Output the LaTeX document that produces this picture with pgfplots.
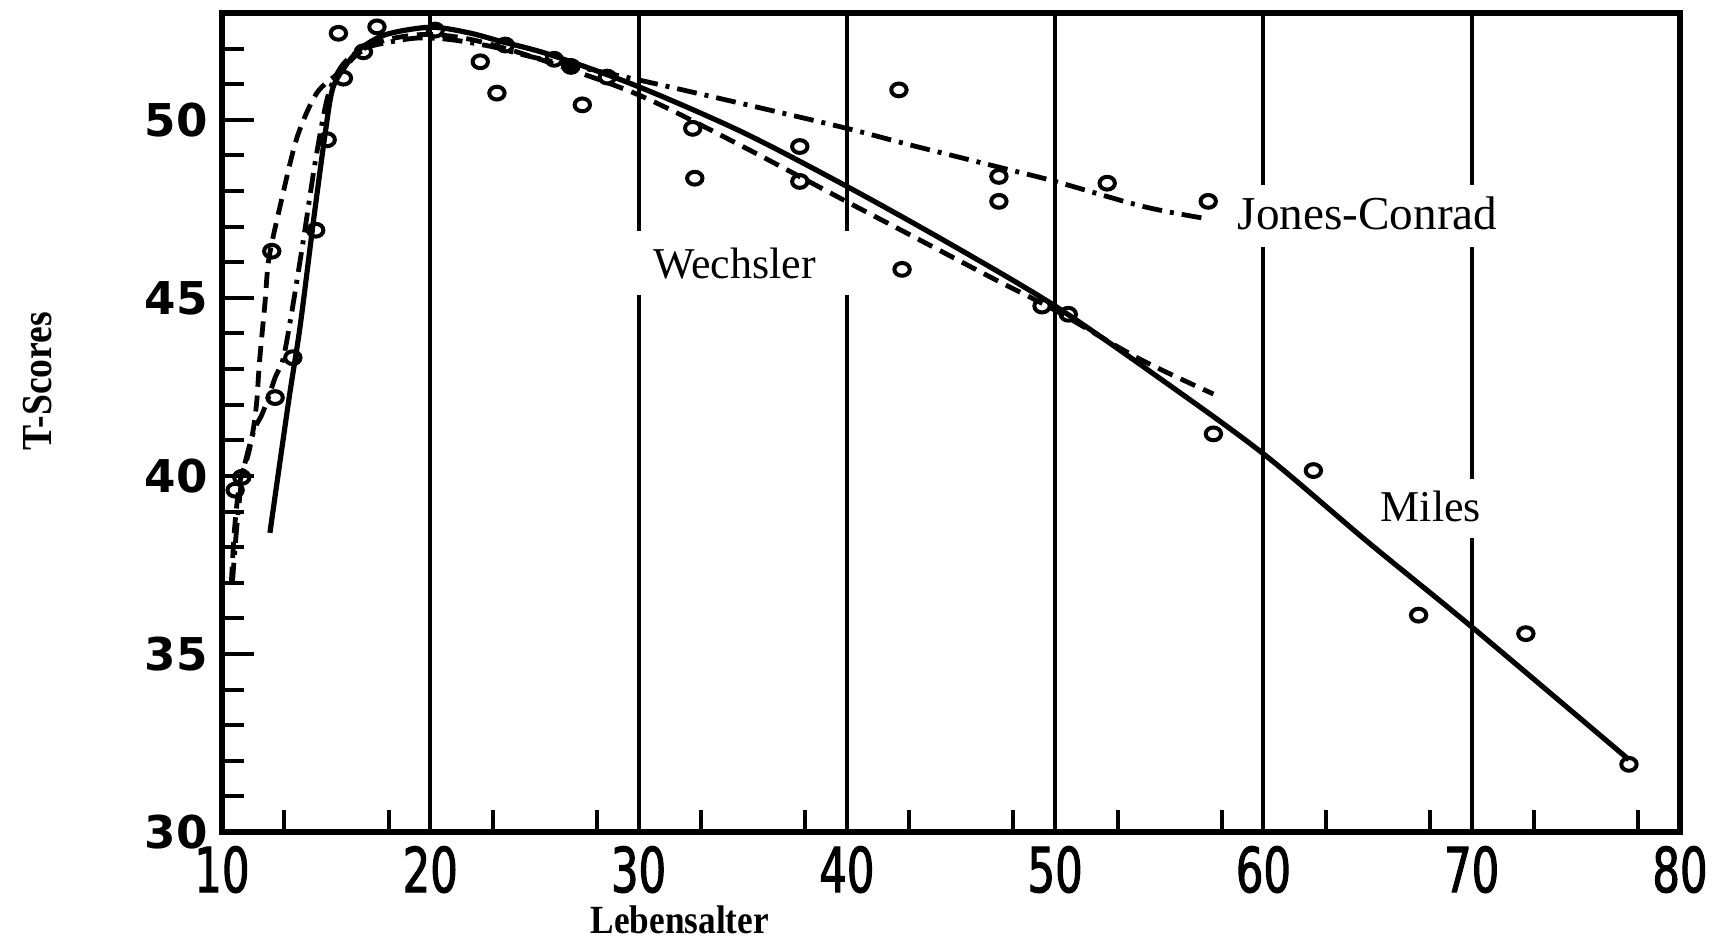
\documentclass[border=0pt]{standalone}
\usepackage{fontspec}
\setmainfont{Liberation Serif}
\newfontfamily\ytickfont{DejaVu Sans}
\newfontfamily\xtickfont{DejaVu Sans}[FakeStretch=0.7, FakeBold=1.6]
\newfontfamily\axlabfont{Liberation Serif}[FakeStretch=0.88]
\usepackage{pgfplots}
\usepackage{pgfplotstable}
\pgfplotsset{compat=1.18}

% Mean T-scores by age, smoothed curves of three studies
\pgfplotstableread{
x y
12.3 38.4
13.2 42.1
13.75 44.2
14.4 47.2
14.95 49.6
15.3 50.85
15.85 51.45
16.65 52.0
17.9 52.4
20.0 52.6
21.8 52.45
23.4 52.2
25.8 51.82
30 50.93
35 49.65
40 48.13
45 46.5
50 44.77
55 42.75
60 40.62
65 38.15
70 35.76
77.55 32.03
}\miles

\pgfplotstableread{
x y
10.45 37.0
10.6 38.5
10.85 39.8
11.26 40.6
11.5 41.3
11.67 42.1
11.8 43.2
12.07 44.9
12.25 46.1
12.8 47.6
13.6 49.5
14.55 50.75
15.67 51.35
16.63 51.9
17.92 52.25
19.84 52.4
22 52.25
25 51.75
30 50.7
35 49.25
40 47.7
43 46.78
47 45.55
50 44.65
54 43.3
57.6 42.3
}\wechsler

\pgfplotstableread{
x y
10.5 37.0
10.7 38.5
10.95 39.9
11.25 40.7
11.59 41.36
11.9 41.7
12.23 42.2
12.55 42.76
12.94 43.3
13.35 44.6
13.9 46.6
14.5 48.9
15.1 50.7
15.8 51.55
16.8 52.0
18.2 52.2
19.5 52.3
21 52.25
23 52.05
25 51.75
30 51.12
35 50.45
40 49.76
43 49.3
47.3 48.67
50 48.27
54.2 47.57
57.1 47.24
}\jonesconrad

% Observed group means
\pgfplotstableread{
x y
10.63 39.6
10.95 39.96
12.39 46.31
12.55 42.2
13.4 43.32
14.5 46.9
15.05 49.44
15.59 52.43
15.83 51.17
16.79 51.91
17.44 52.61
20.24 52.52
22.4 51.63
23.2 50.75
23.6 52.1
25.95 51.7
26.75 51.5
27.3 50.42
28.5 51.2
32.6 49.76
32.7 48.36
37.74 49.25
37.74 48.27
42.5 50.84
42.65 45.8
47.3 48.41
47.3 47.71
49.37 44.77
50.63 44.54
52.5 48.22
57.35 47.71
57.6 41.18
62.4 40.15
67.45 36.09
72.6 35.57
77.55 31.9
}\obs

\begin{document}
\begin{tikzpicture}
\begin{axis}[
  scale only axis,
  width=364.5pt, height=204.75pt,
  xmin=10, xmax=80, ymin=30, ymax=53,
  xtick={10,20,...,80},
  minor xtick={13,18,...,78},
  ytick={30,35,...,50},
  minor ytick={31,32,33,34,36,37,38,39,41,42,43,44,46,47,48,49,51,52},
  tick pos=left,
  tick align=inside,
  major tick length=8pt,
  minor tick length=5.5pt,
  every tick/.style={black, line width=1pt},
  xmajorgrids,
  major grid style={black, line width=1pt},
  axis line style={black, line width=1.3pt},
  /pgf/number format/assume math mode=true,
  yticklabel style={font=\ytickfont\bfseries\fontsize{11.3pt}{13pt}\selectfont},
  xticklabel style={font=\xtickfont\fontsize{15.5pt}{17pt}\selectfont},
  xlabel={Lebensalter},
  xlabel style={at={(axis description cs:0.314,-0.107)}, anchor=center, inner sep=1pt,
    font=\axlabfont\bfseries\fontsize{10pt}{12pt}\selectfont},
  ylabel={T-Scores},
  ylabel style={at={(axis description cs:-0.1262,0.5507)}, anchor=center,
    font=\axlabfont\bfseries\fontsize{10.7pt}{13pt}\selectfont},
  clip=false,
]
\coordinate (O) at (rel axis cs:0,0);
% white ground behind the curve names, breaking the grid lines
\fill[white] (axis cs:29.5,45.08) rectangle (axis cs:40.5,46.87);
\fill[white] (axis cs:58.8,46.44) rectangle (axis cs:72.2,48.18);
\fill[white] (axis cs:65.3,38.27) rectangle (axis cs:70.6,39.92);

\addplot[black, line width=1.3pt, smooth, tension=0.5] table {\miles};
\addplot[black, line width=1.2pt, smooth, tension=0.5, dash pattern=on 4pt off 2.2pt] table {\wechsler};
\addplot[black, line width=1.2pt, smooth, tension=0.5, dash pattern=on 5pt off 2pt on 1pt off 2pt] table {\jonesconrad};
\addplot[only marks, mark=o, mark size=1.6pt,
  mark options={solid, black, fill=white, line width=1pt, xscale=1.2}] table {\obs};

\node[font=\fontsize{11pt}{13pt}\selectfont] at (axis cs:34.6,45.97) {Wechsler};
\node[font=\fontsize{11.8pt}{13pt}\selectfont] at (axis cs:65.0,47.38) {Jones-Conrad};
\node[font=\fontsize{11pt}{13pt}\selectfont] at (axis cs:68.04,39.14) {Miles};
\end{axis}
\pgfresetboundingbox
\path (O) ++(-55.5pt,-26.75pt) rectangle ++(430pt,234.75pt);
\end{tikzpicture}
\end{document}
